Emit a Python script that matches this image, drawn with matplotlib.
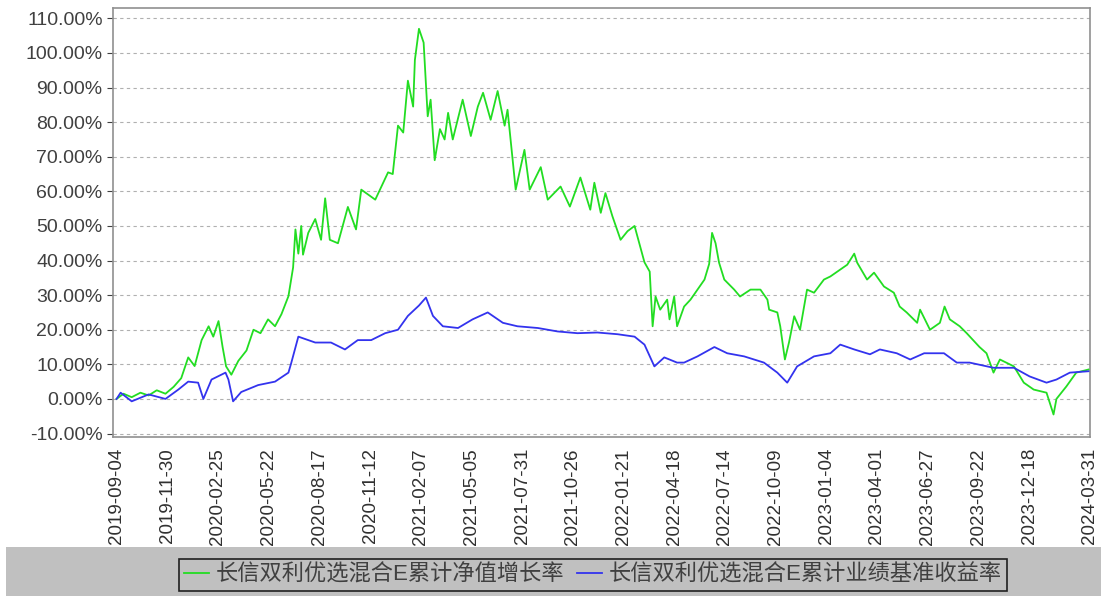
#!/usr/bin/env python3
"""Cumulative NAV growth vs benchmark for 长信双利优选混合E."""
import matplotlib
matplotlib.use("Agg")
import matplotlib.pyplot as plt
import matplotlib.ticker as mticker
from matplotlib.patches import Rectangle
import pandas as pd

plt.rcParams["font.family"] = ["Liberation Sans", "Noto Sans CJK SC", "DejaVu Sans"]

FUND_LABEL = "长信双利优选混合E累计净值增长率"
BENCH_LABEL = "长信双利优选混合E累计业绩基准收益率"

fund_dates = [
    "2019-09-04", "2019-09-16", "2019-09-30", "2019-10-15", "2019-10-29", "2019-11-12",
    "2019-11-27", "2019-12-11", "2019-12-24", "2020-01-05", "2020-01-16", "2020-01-28",
    "2020-02-09", "2020-02-17", "2020-02-26", "2020-03-04", "2020-03-10", "2020-03-19",
    "2020-03-31", "2020-04-14", "2020-04-26", "2020-05-08", "2020-05-21", "2020-06-02",
    "2020-06-13", "2020-06-25", "2020-07-03", "2020-07-07", "2020-07-12", "2020-07-17",
    "2020-07-20", "2020-07-29", "2020-08-10", "2020-08-20", "2020-08-27", "2020-09-04",
    "2020-09-18", "2020-10-05", "2020-10-19", "2020-10-28", "2020-11-21", "2020-12-13",
    "2020-12-21", "2020-12-30", "2021-01-08", "2021-01-16", "2021-01-25", "2021-01-28",
    "2021-02-04", "2021-02-12", "2021-02-19", "2021-02-24", "2021-03-03", "2021-03-12",
    "2021-03-20", "2021-03-26", "2021-04-03", "2021-04-20", "2021-05-04", "2021-05-16",
    "2021-05-25", "2021-06-07", "2021-06-19", "2021-07-01", "2021-07-06", "2021-07-20",
    "2021-08-04", "2021-08-13", "2021-09-01", "2021-09-13", "2021-10-05", "2021-10-21",
    "2021-11-08", "2021-11-25", "2021-12-02", "2021-12-13", "2021-12-21", "2022-01-02",
    "2022-01-16", "2022-01-28", "2022-02-09", "2022-02-26", "2022-03-07", "2022-03-12",
    "2022-03-17", "2022-03-25", "2022-04-06", "2022-04-10", "2022-04-18", "2022-04-23",
    "2022-05-05", "2022-05-16", "2022-05-28", "2022-06-09", "2022-06-17", "2022-06-22",
    "2022-06-28", "2022-07-04", "2022-07-13", "2022-07-30", "2022-08-09", "2022-08-27",
    "2022-09-13", "2022-09-25", "2022-09-28", "2022-10-12", "2022-10-17", "2022-10-25",
    "2022-11-01", "2022-11-10", "2022-11-20", "2022-12-02", "2022-12-14", "2022-12-31",
    "2023-01-11", "2023-01-28", "2023-02-09", "2023-02-21", "2023-02-26", "2023-03-15",
    "2023-03-27", "2023-04-13", "2023-04-30", "2023-05-10", "2023-05-22", "2023-06-09",
    "2023-06-14", "2023-07-01", "2023-07-18", "2023-07-26", "2023-08-04", "2023-08-21",
    "2023-09-02", "2023-09-24", "2023-10-06", "2023-10-18", "2023-10-29", "2023-11-22",
    "2023-12-09", "2023-12-26", "2024-01-17", "2024-01-29", "2024-02-03", "2024-02-20",
    "2024-03-08", "2024-03-29",
]
fund_values = [
    0.0, 1.5, 0.5, 1.8, 1.0, 2.5,
    1.5, 3.5, 6.0, 12.0, 9.5, 17.0,
    21.0, 18.0, 22.5, 15.0, 9.4, 7.0,
    11.0, 14.0, 20.0, 19.0, 23.0, 21.0,
    24.5, 29.7, 38.0, 49.0, 42.0, 50.0,
    41.7, 48.0, 52.0, 46.0, 58.0, 46.0,
    45.0, 55.5, 49.0, 60.5, 57.6, 65.5,
    65.0, 79.0, 77.0, 92.0, 84.5, 98.0,
    107.0, 103.0, 81.7, 86.5, 69.0, 78.0,
    75.0, 82.7, 75.0, 86.5, 76.0, 84.5,
    88.5, 80.7, 89.0, 79.0, 83.6, 60.5,
    72.0, 60.5, 67.0, 57.6, 61.4, 55.6,
    64.0, 54.7, 62.5, 53.8, 59.5, 52.8,
    46.0, 48.5, 50.0, 39.5, 36.8, 21.0,
    29.6, 25.8, 28.7, 23.0, 29.6, 21.0,
    26.7, 28.7, 31.6, 34.5, 39.0, 48.0,
    45.0, 39.4, 34.5, 31.6, 29.6, 31.6,
    31.6, 28.7, 25.8, 25.0, 21.0, 11.4,
    16.3, 23.9, 20.0, 31.6, 30.7, 34.5,
    35.4, 37.4, 38.8, 42.0, 39.4, 34.5,
    36.5, 32.5, 30.7, 26.7, 25.0, 22.0,
    25.8, 20.0, 22.0, 26.7, 23.0, 21.0,
    19.0, 15.0, 13.2, 7.6, 11.4, 9.4,
    4.7, 2.7, 1.8, -4.5, 0.0, 3.6,
    7.6, 8.5,
]

bench_dates = [
    "2019-09-04", "2019-09-11", "2019-09-30", "2019-10-29", "2019-11-27", "2019-12-19",
    "2020-01-05", "2020-01-22", "2020-01-31", "2020-02-14", "2020-03-09", "2020-03-14",
    "2020-03-22", "2020-04-05", "2020-05-04", "2020-06-02", "2020-06-25", "2020-06-30",
    "2020-07-12", "2020-08-10", "2020-09-06", "2020-09-30", "2020-10-22", "2020-11-14",
    "2020-12-08", "2020-12-30", "2021-01-16", "2021-02-04", "2021-02-16", "2021-02-28",
    "2021-03-17", "2021-04-12", "2021-05-07", "2021-06-02", "2021-06-28", "2021-07-23",
    "2021-08-27", "2021-09-30", "2021-11-03", "2021-12-07", "2022-01-11", "2022-02-09",
    "2022-02-26", "2022-03-08", "2022-03-15", "2022-04-01", "2022-04-23", "2022-05-05",
    "2022-05-28", "2022-06-26", "2022-07-18", "2022-08-16", "2022-09-19", "2022-10-12",
    "2022-10-29", "2022-11-15", "2022-12-14", "2023-01-11", "2023-01-28", "2023-02-21",
    "2023-03-20", "2023-04-06", "2023-05-05", "2023-05-28", "2023-06-21", "2023-07-25",
    "2023-08-16", "2023-09-07", "2023-10-18", "2023-11-22", "2023-12-19", "2024-01-17",
    "2024-02-03", "2024-02-26", "2024-03-29",
]
bench_values = [
    0.0, 1.8, -0.7, 1.3, 0.0, 2.7,
    5.0, 4.7, 0.0, 5.6, 7.6, 5.6,
    -0.7, 2.0, 4.0, 5.0, 7.6, 10.5,
    18.0, 16.3, 16.3, 14.3, 17.0, 17.0,
    19.0, 20.0, 24.0, 27.0, 29.3, 24.0,
    21.0, 20.5, 23.0, 25.0, 22.0, 21.0,
    20.5, 19.5, 19.0, 19.2, 18.7, 18.0,
    15.7, 12.0, 9.4, 12.0, 10.5, 10.5,
    12.3, 15.0, 13.2, 12.3, 10.5, 7.6,
    4.7, 9.4, 12.3, 13.2, 15.7, 14.3,
    12.9, 14.3, 13.2, 11.4, 13.2, 13.2,
    10.5, 10.5, 9.0, 9.0, 6.5, 4.7,
    5.6, 7.6, 8.0,
]

tick_start = "2019-09-04"
tick_step_days = 87
tick_count = 19
tick_last = "2024-03-31"
y_ticks = [-10, 0, 10, 20, 30, 40, 50, 60, 70, 80, 90, 100, 110]


def main() -> None:
    fig = plt.figure(figsize=(11.04, 5.99), dpi=100)
    fig.patch.set_facecolor("white")

    # grey band behind the legend
    fig.patches.append(Rectangle((0.005, 0.005), 0.992, 0.081, transform=fig.transFigure,
                                 facecolor="#c0c0c0", edgecolor="none", zorder=0))

    ax = fig.add_axes([0.1024, 0.2705, 0.8846, 0.7161])
    ax.set_facecolor("white")

    fd = pd.to_datetime(fund_dates)
    bd = pd.to_datetime(bench_dates)
    l1, = ax.plot(fd, fund_values, color="#22dd22", lw=1.3, label=FUND_LABEL, zorder=3)
    l2, = ax.plot(bd, bench_values, color="#3333ee", lw=1.3, label=BENCH_LABEL, zorder=3)

    ticks = list(pd.date_range(tick_start, periods=tick_count, freq=f"{tick_step_days}D"))
    ticks.append(pd.Timestamp(tick_last))
    ax.set_xticks(ticks)
    ax.set_xticklabels([t.strftime("%Y-%m-%d") for t in ticks], rotation=90,
                       fontsize=13.5, color="#303030")
    ax.set_xlim(pd.Timestamp("2019-08-29"), pd.Timestamp("2024-03-31"))

    ax.set_ylim(-11, 113)
    ax.set_yticks(y_ticks)
    ax.yaxis.set_major_formatter(mticker.FuncFormatter(lambda v, p: f"{v:.2f}%"))
    ax.tick_params(axis="y", labelsize=14, colors="#404040", length=4, width=0.8)
    ax.tick_params(axis="x", length=0, pad=8)
    for lab in ax.get_yticklabels():
        lab.set_color("#404040")

    ax.grid(axis="y", linestyle=(0, (3, 3)), color="#b0b0b0", linewidth=0.8)
    ax.grid(axis="x", visible=False)
    for sp in ax.spines.values():
        sp.set_color("#909090")
        sp.set_linewidth(1.2)

    leg = fig.legend(handles=[l1, l2], loc="center", bbox_to_anchor=(0.537, 0.04), ncol=2,
                     fontsize=16, frameon=True, fancybox=False, handlelength=1.1,
                     handletextpad=0.3, columnspacing=0.6, borderpad=0.25)
    frame = leg.get_frame()
    frame.set_facecolor("#c0c0c0")
    frame.set_edgecolor("#202020")
    frame.set_linewidth(1.2)
    frame.set_alpha(1)
    for txt in leg.get_texts():
        txt.set_color("#404040")

    fig.savefig("out.png", dpi=100)
    plt.close(fig)


if __name__ == "__main__":
    main()
